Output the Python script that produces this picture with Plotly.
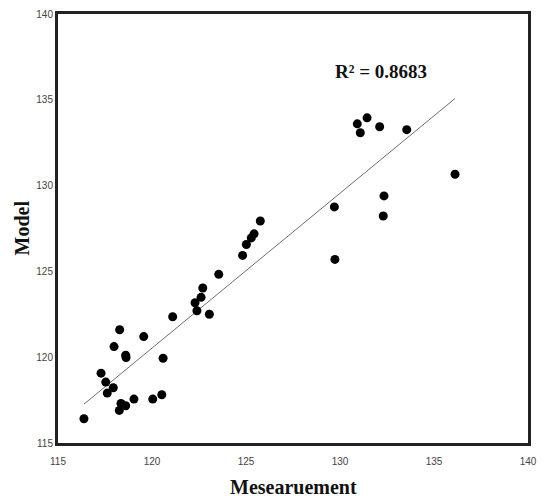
import numpy as np
import plotly.graph_objects as go

measurement = [116.38, 117.29, 117.54, 117.62, 117.94, 117.98, 118.28, 118.60, 118.62,
               118.35, 118.26, 118.60, 119.04, 119.56, 120.04, 120.52, 120.59, 121.10,
               122.29, 122.39, 122.61, 122.70, 123.05, 123.55, 124.82, 125.02, 125.28,
               125.43, 125.76, 129.70, 129.73, 130.92, 131.08, 131.44, 132.11, 132.34,
               132.30, 133.55, 136.12]
model = [116.41, 119.07, 118.55, 117.91, 118.22, 120.62, 121.60, 120.12, 119.98,
         117.30, 116.90, 117.17, 117.56, 121.20, 117.56, 117.81, 119.94, 122.36,
         123.17, 122.71, 123.49, 124.03, 122.50, 124.83, 125.93, 126.57, 126.95,
         127.19, 127.94, 128.76, 125.70, 133.60, 133.08, 133.95, 133.43, 129.40,
         128.23, 133.26, 130.66]
tick_vals = [115, 120, 125, 130, 135, 140]
r2_label = "R² = 0.8683"
x_title = "Mesearuement"
y_title = "Model"

x = np.array(measurement)
y = np.array(model)
slope, intercept = np.polyfit(x, y, 1)
line_x = np.array([x.min(), x.max()])
line_y = slope * line_x + intercept

fig = go.Figure()
fig.add_trace(go.Scatter(x=line_x, y=line_y, mode="lines",
                         line=dict(color="#6e6e6e", width=1), hoverinfo="skip"))
fig.add_trace(go.Scatter(x=measurement, y=model, mode="markers",
                         marker=dict(color="black", size=9, symbol="circle")))

axis_common = dict(range=[115, 140], tickvals=tick_vals, showgrid=False, zeroline=False,
                   showline=True, linecolor="#222", linewidth=3, mirror=True, ticks="",
                   automargin=False,
                   tickfont=dict(family="Liberation Sans", size=10, color="#444"))
fig.update_xaxes(**axis_common, ticklabelstandoff=7)
fig.update_yaxes(**axis_common)

title_font = dict(family="Liberation Serif", size=20, color="#111")
fig.add_annotation(x=132.2, y=136.65, xref="x", yref="y", text="<b>" + r2_label + "</b>",
                   showarrow=False, font=dict(family="Liberation Serif", size=19, color="#111"))
fig.add_annotation(x=0.5, y=0, xref="paper", yref="paper", yshift=-44,
                   xanchor="center", yanchor="middle",
                   text="<b>" + x_title + "</b>", showarrow=False, font=title_font)
fig.add_annotation(x=0, y=0.5, xref="paper", yref="paper", xshift=-37, textangle=-90,
                   xanchor="center", yanchor="middle",
                   text="<b>" + y_title + "</b>", showarrow=False, font=title_font)

fig.update_layout(width=543, height=497, showlegend=False,
                  plot_bgcolor="white", paper_bgcolor="white",
                  margin=dict(l=58, r=15, t=14, b=54))
fig.write_html("out.html", config={"displayModeBar": False},
               post_script="document.body.style.margin='0';document.body.style.overflow='hidden';")
